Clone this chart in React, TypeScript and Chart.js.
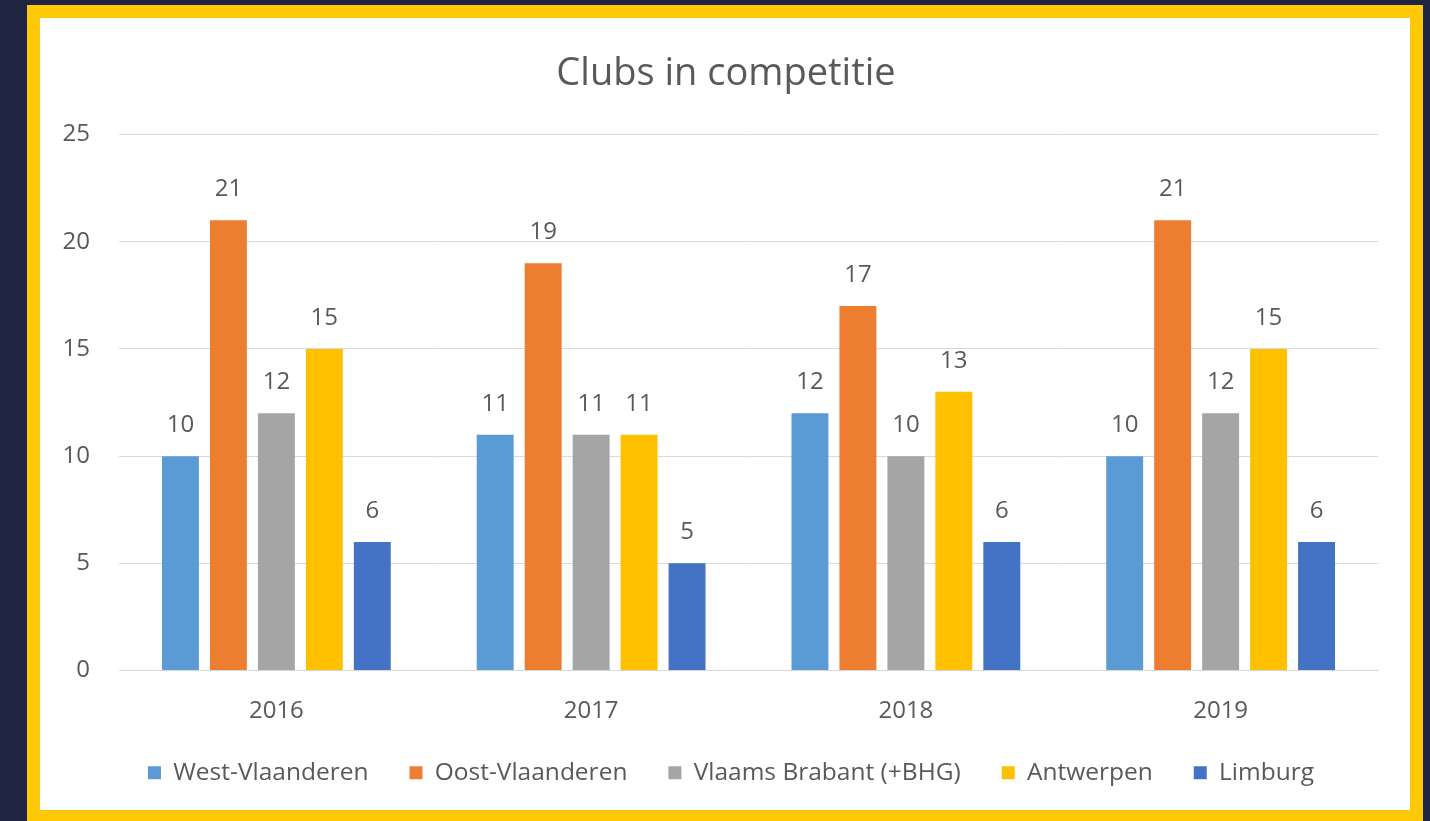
import React, { useEffect, useRef } from "react";
import { Chart, registerables } from "chart.js";

Chart.register(...registerables);

const categories = ["2016", "2017", "2018", "2019"];
const seriesNames = ["West-Vlaanderen", "Oost-Vlaanderen", "Vlaams Brabant (+BHG)", "Antwerpen", "Limburg"];
const westVlaanderen = [10, 11, 12, 10];
const oostVlaanderen = [21, 19, 17, 21];
const vlaamsBrabant = [12, 11, 10, 12];
const antwerpen = [15, 11, 13, 15];
const limburg = [6, 5, 6, 6];
const seriesColors = ["#5b9bd5", "#ed7d31", "#a5a5a5", "#ffc000", "#4472c4"];
const yTicks = [0, 5, 10, 15, 20, 25];
const titleText = "Clubs in competitie";

const FONT = "'Open Sans', sans-serif";
const TEXT = "#595959";

const valueLabels = {
  id: "valueLabels",
  afterDatasetsDraw(chart: any) {
    const ctx = chart.ctx;
    ctx.save();
    ctx.font = `24px ${FONT}`;
    ctx.fillStyle = TEXT;
    ctx.textAlign = "center";
    ctx.textBaseline = "middle";
    chart.data.datasets.forEach((ds: any, i: number) => {
      const meta = chart.getDatasetMeta(i);
      meta.data.forEach((el: any, j: number) => {
        ctx.fillText(String(ds.data[j]), el.x, el.y - 31);
      });
    });
    ctx.restore();
  },
};

// shift the centred title and legend boxes a little to the right, as in the reference
const shiftBoxes = {
  id: "shiftBoxes",
  afterLayout(chart: any) {
    if (chart.legend) { chart.legend.left += 22; chart.legend.right += 22; }
    if (chart.titleBlock) { chart.titleBlock.left += 17; chart.titleBlock.right += 17; }
  },
};

export default function App() {
  const ref = useRef<HTMLCanvasElement>(null);
  useEffect(() => {
    document.body.style.margin = "0";
    const allData = [westVlaanderen, oostVlaanderen, vlaamsBrabant, antwerpen, limburg];
    const chart = new Chart(ref.current!, {
      type: "bar",
      data: {
        labels: categories,
        datasets: seriesNames.map((name, i) => ({
          label: name,
          data: allData[i],
          backgroundColor: seriesColors[i],
          borderWidth: 0,
          categoryPercentage: 0.762,
          barPercentage: 0.77,
        })),
      },
      options: {
        animation: false,
        responsive: false,
        maintainAspectRatio: false,
        layout: { padding: { top: 33, right: 32, bottom: 15, left: 0 } },
        plugins: {
          title: {
            display: true,
            text: titleText,
            color: TEXT,
            font: { family: FONT, size: 38, weight: "normal", lineHeight: 1.2 },
            padding: { top: 0, bottom: 38 },
          },
          legend: {
            position: "bottom",
            labels: {
              color: TEXT,
              font: { family: FONT, size: 24.5 },
              boxWidth: 13,
              boxHeight: 13,
              padding: 41,
            },
          },
          tooltip: { enabled: false },
        },
        scales: {
          x: {
            grid: { display: false, drawTicks: false },
            border: { display: true, color: "#d9d9d9" },
            ticks: { color: TEXT, font: { family: FONT, size: 24 }, padding: 26 },
            afterFit: (s: any) => { s.height = 49; },
          },
          y: {
            min: 0,
            max: 25,
            afterBuildTicks: (s: any) => { s.ticks = yTicks.map((v) => ({ value: v })); },
            grid: { color: "#d9d9d9", drawTicks: false },
            border: { display: false },
            ticks: { color: TEXT, font: { family: FONT, size: 24 }, padding: 29 },
            afterFit: (s: any) => { s.width = 79; },
          },
        },
      },
      plugins: [valueLabels, shiftBoxes],
    });
    return () => chart.destroy();
  }, []);

  return (
    <div style={{ position: "fixed", left: 0, top: 0, width: 1430, height: 821, background: "#1f2541", overflow: "hidden" }}>
      <div style={{ position: "absolute", left: 27, top: 5, width: 1396, height: 830, background: "#ffc907" }} />
      <div style={{ position: "absolute", left: 40, top: 18, width: 1370, height: 792, background: "#ffffff" }}>
        <canvas ref={ref} width={1370} height={792} style={{ display: "block" }} />
      </div>
    </div>
  );
}
